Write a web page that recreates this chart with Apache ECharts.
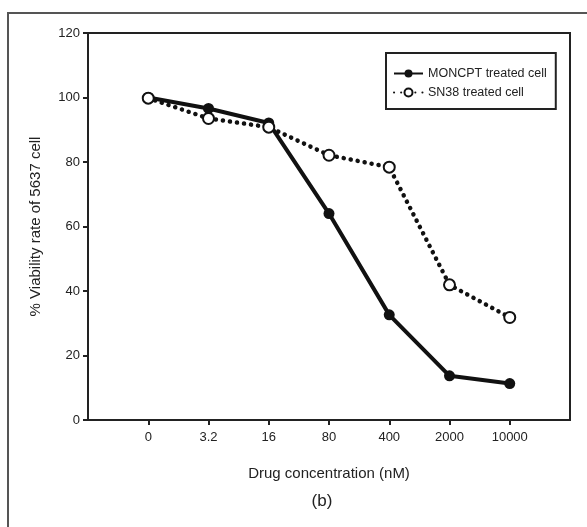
<!DOCTYPE html>
<html>
<head>
<meta charset="utf-8">
<script src="https://cdn.jsdelivr.net/npm/echarts@6/dist/echarts.min.js"></script>
<style>
  html, body { margin: 0; padding: 0; background: #fff; }
  #chart { width: 587px; height: 527px; }
</style>
</head>
<body>
<div id="chart"></div>
<script>
  // concentrations (nM) on the x axis
  const categories = ['0', '3.2', '16', '80', '400', '2000', '10000']
  const moncpt = [100, 96.6, 92.1, 64, 32.6, 13.7, 11.3]
  const sn38 = [99.8, 93.5, 90.8, 82.1, 78.4, 41.9, 31.8]
  const yTicks = { min: 0, max: 120, interval: 20 }

  // one empty slot each side, like the original plot
  const xSlots = [''].concat(categories, [''])
  const toPoints = arr => arr.map((v, i) => [i + 1, v])

  const txt = '#222'
  const chart = echarts.init(document.getElementById('chart'))
  chart.setOption({
    animation: false,
    backgroundColor: '#fff',
    textStyle: { fontFamily: 'Liberation Sans, Arial, sans-serif' },
    grid: {
      left: 88, top: 33, right: 17, bottom: 107,
      show: true, borderColor: '#222', borderWidth: 2, backgroundColor: 'transparent'
    },
    graphic: [{
      type: 'rect',
      shape: { x: 8, y: 13, width: 620, height: 560 },
      style: { fill: 'none', stroke: '#555', lineWidth: 2 },
      silent: true
    }, {
      type: 'text',
      x: 322, y: 501,
      style: {
        text: '(b)', fill: txt, font: '17px "Liberation Sans", Arial',
        textAlign: 'center', textVerticalAlign: 'middle'
      }
    }],
    legend: {
      orient: 'vertical',
      left: 386, top: 53,
      padding: [14, 9, 10, 7],
      itemGap: 6,
      itemWidth: 29,
      itemHeight: 10,
      borderColor: '#222',
      borderWidth: 2,
      backgroundColor: '#fff',
      textStyle: { color: txt, fontSize: 12.5 },
      data: ['MONCPT treated cell', 'SN38 treated cell']
    },
    xAxis: {
      type: 'category',
      data: xSlots,
      boundaryGap: false,
      name: 'Drug concentration (nM)',
      nameLocation: 'middle',
      nameGap: 46,
      nameTextStyle: { color: txt, fontSize: 15 },
      axisLine: { lineStyle: { color: '#222', width: 2 } },
      axisTick: {
        length: 5,
        interval: (idx) => idx > 0 && idx < xSlots.length - 1,
        lineStyle: { color: '#222', width: 2 }
      },
      axisLabel: { interval: 0, color: txt, fontSize: 13, margin: 11 },
      splitLine: { show: false }
    },
    yAxis: {
      type: 'value',
      min: yTicks.min,
      max: yTicks.max,
      interval: yTicks.interval,
      name: '% Viability rate of 5637 cell',
      nameLocation: 'middle',
      nameGap: 45,
      nameTextStyle: { color: txt, fontSize: 15 },
      axisLine: { show: true, lineStyle: { color: '#222', width: 2 } },
      axisTick: { show: true, length: 5, lineStyle: { color: '#222', width: 2 } },
      axisLabel: { color: txt, fontSize: 13, margin: 8 },
      splitLine: { show: false }
    },
    series: [{
      name: 'MONCPT treated cell',
      type: 'line',
      data: toPoints(moncpt),
      symbol: 'circle',
      symbolSize: 11,
      color: '#111',
      lineStyle: { color: '#111', width: 4 },
      itemStyle: { color: '#111' }
    }, {
      name: 'SN38 treated cell',
      type: 'line',
      data: toPoints(sn38),
      symbol: 'circle',
      symbolSize: 11,
      color: '#111',
      lineStyle: { color: '#111', width: 4.5, type: [0.1, 7], cap: 'round' },
      itemStyle: { color: '#fff', borderColor: '#111', borderWidth: 2 }
    }]
  })
</script>
</body>
</html>
